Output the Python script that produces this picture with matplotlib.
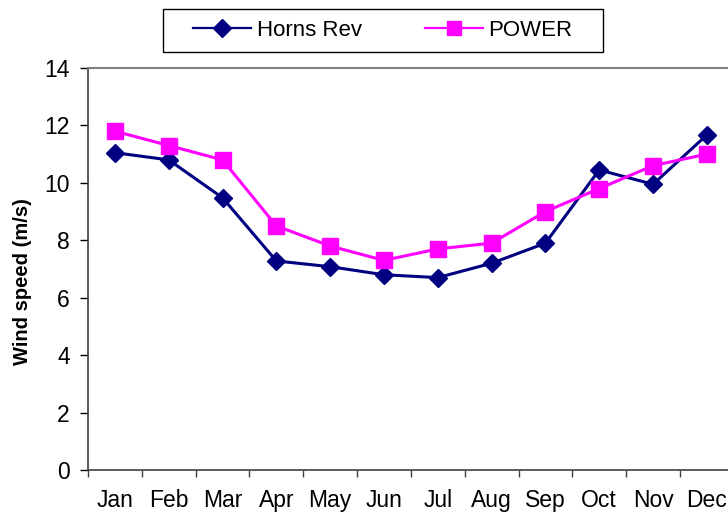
import numpy as np
import matplotlib.pyplot as plt
from matplotlib.patches import Rectangle

plt.rcParams['font.family'] = ['Liberation Sans', 'DejaVu Sans']

months = ['Jan', 'Feb', 'Mar', 'Apr', 'May', 'Jun',
          'Jul', 'Aug', 'Sep', 'Oct', 'Nov', 'Dec']
horns_rev = [11.05, 10.8, 9.48, 7.28, 7.08, 6.8, 6.7, 7.2, 7.9, 10.45, 9.95, 11.67]
power = [11.8, 11.3, 10.8, 8.5, 7.8, 7.3, 7.7, 7.9, 9.0, 9.8, 10.6, 11.0]

W, H = 728, 518
fig = plt.figure(figsize=(W / 100, H / 100), dpi=100)
ax = fig.add_axes([0.1209, 0.0927, 0.887, 0.776])

x = np.arange(len(months))
ax.plot(x, horns_rev, color='#000080', lw=2.2, marker='D', ms=9.5,
        label='Horns Rev')
ax.plot(x, power, color='#FF00FF', lw=2.2, marker='s', ms=11,
        label='POWER')

ax.set_xlim(-0.5, 11.5)
ax.set_ylim(0, 14)
ax.set_yticks(range(0, 15, 2))
ax.set_xticks(x)
ax.set_xticklabels(months)
ax.set_xticks(np.arange(-0.5, 11.6, 1), minor=True)
ax.tick_params(axis='x', which='major', length=0, pad=14, labelsize=16.5)
ax.tick_params(axis='x', which='minor', length=5, width=1, color='#404040')
ax.tick_params(axis='y', length=6, width=1, labelsize=16.5, pad=7)

ax.spines['top'].set_color('#808080')
ax.spines['top'].set_linewidth(1.5)
ax.spines['right'].set_visible(False)
ax.spines['left'].set_color('#404040')
ax.spines['bottom'].set_color('#404040')
ax.spines['left'].set_linewidth(1.2)
ax.spines['bottom'].set_linewidth(1.2)

ax.set_ylabel('Wind speed (m/s)', fontsize=14.5, fontweight='bold')
ax.yaxis.set_label_coords(-0.086, 0.468)

# legend box drawn in figure pixels
fig.patches.append(Rectangle((163 / W, 1 - 52 / H), 440 / W, 43 / H,
                             transform=fig.transFigure, facecolor='white',
                             edgecolor='black', lw=1))
leg = fig.legend(loc='center', bbox_to_anchor=(0.526, 0.941), ncol=2,
                 fontsize=16, frameon=False,
                 handlelength=2.6, columnspacing=2.85, borderpad=0,
                 handletextpad=0.25, borderaxespad=0)
for h in leg.legend_handles:
    h.set_linewidth(1.6)
    h.set_markersize(9.5)

fig.savefig('out.png', dpi=100)
